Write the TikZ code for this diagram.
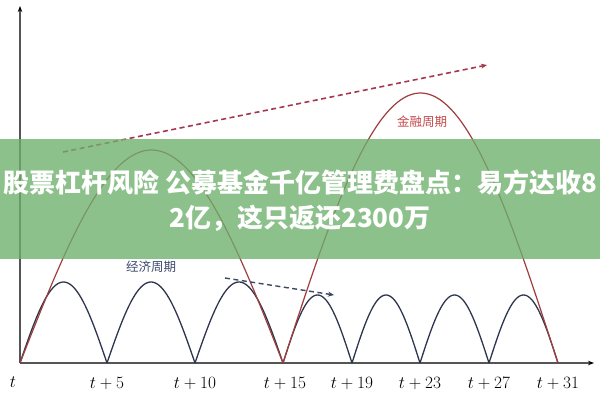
\documentclass[tikz,border=0pt]{standalone}
\usepackage{fontspec}
\newfontfamily\cjk{Noto Sans CJK SC}
\usetikzlibrary{arrows.meta}
\definecolor{axisgray}{RGB}{85,85,85}
\definecolor{econblue}{RGB}{45,52,78}
\definecolor{finred}{RGB}{160,62,62}
\definecolor{arrred}{RGB}{165,55,80}
\definecolor{arrblue}{RGB}{60,72,100}
\definecolor{labred}{RGB}{195,75,75}
\definecolor{labblue}{RGB}{60,75,110}
\definecolor{bannergreen}{RGB}{110,176,108}
\begin{document}
\begin{tikzpicture}[x=1pt,y=-1pt,
  axis/.style={draw=axisgray,line width=1.3pt,-{Stealth[length=6pt,width=4.5pt,black]}},
  econ/.style={draw=econblue,line width=1.3pt},
  fin/.style={draw=finred,line width=1.2pt},
  trendred/.style={draw=arrred,line width=1.6pt,dash pattern=on 5pt off 3.5pt,-{Stealth[length=6pt,width=5pt]}},
  trendblue/.style={draw=arrblue,line width=1.4pt,dash pattern=on 5pt off 3.5pt,-{Stealth[length=6pt,width=5pt]}},
  tick/.style={font=\fontsize{17}{17}\selectfont,inner sep=0pt},
  cyc/.style={font=\cjk\fontsize{12.5}{13}\selectfont,inner sep=0pt},
  banner/.style={font=\cjk\bfseries\fontsize{26}{26}\selectfont,text=white,inner sep=0pt}]
\useasboundingbox (0,0) rectangle (600,400);
\fill[white] (0,0) rectangle (600,400);
% axes
\coordinate (O) at (20,363);
\coordinate (xend) at (594,363);
\coordinate (yend) at (20,6);
\draw[axis] (O) -- (xend);
\draw[axis] (O) -- (yend);
% economic cycles
\foreach \a/\b in {20/107,107/195,195/283}
  \draw[econ] plot[domain=\a:\b,samples=60] (\x,{363-81*sin((180/(\b-\a))*(\x-\a))});
\foreach \a/\b in {283/352,352/420,420/489,489/558}
  \draw[econ] plot[domain=\a:\b,samples=60] (\x,{363-68*sin((180/(\b-\a))*(\x-\a))});
% financial cycles
\draw[fin] plot[domain=20:283,samples=120] (\x,{363-213*sin((180/263)*(\x-20))});
\draw[fin] plot[domain=283:558,samples=120] (\x,{363-270*sin((180/275)*(\x-283))});
% trend arrows
\coordinate (r1) at (63,152);
\coordinate (r2) at (487,65);
\draw[trendred] (r1) -- (r2);
\coordinate (b1) at (225,278);
\coordinate (b2) at (334,295);
\draw[trendblue] (b1) -- (b2);
% cycle labels
\node[cyc,text=labred] (fl) at (422,122) {金融周期};
\node[cyc,text=labblue] (el) at (151,267) {经济周期};
% tick labels
\node[tick] (t0) at (13,382) {$t$};
\node[tick] (t5) at (107,383) {$t+5$};
\node[tick] (t10) at (195,383) {$t+10$};
\node[tick] (t15) at (285,383) {$t+15$};
\node[tick] (t19) at (352,383) {$t+19$};
\node[tick] (t23) at (420,383) {$t+23$};
\node[tick] (t27) at (489,383) {$t+27$};
\node[tick] (t31) at (558,383) {$t+31$};
% banner
\fill[bannergreen,fill opacity=0.78] (0,139) rectangle (600,259);
\node[banner] (l1) at (300,182) {股票杠杆风险 公募基金千亿管理费盘点：易方达收8};
\node[banner] (l2) at (300,218) {2亿，这只返还2300万};
\end{tikzpicture}
\end{document}
